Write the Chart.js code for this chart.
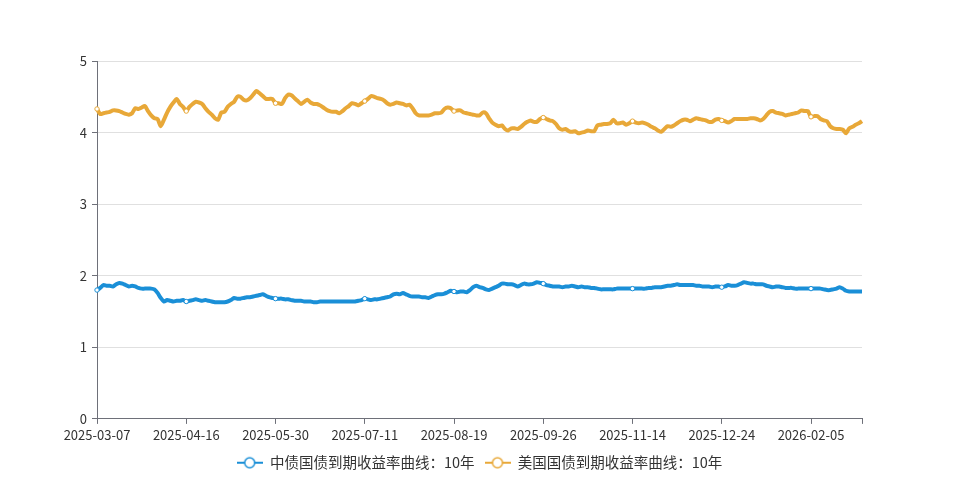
<!DOCTYPE html>
<html>
<head>
<meta charset="utf-8">
<script src="https://cdn.jsdelivr.net/npm/chart.js@4.4.1/dist/chart.umd.min.js"></script>
<style>
  html, body { margin: 0; padding: 0; background: #fff; }
  #wrap { width: 959px; height: 480px; }
</style>
</head>
<body>
<div id="wrap"><canvas id="chart"></canvas></div>
<script>
// labelled dates on the x axis (one every 28 points), plus the last data date
const tickDates = ['2025-03-07', '2025-04-16', '2025-05-30', '2025-07-11', '2025-08-19',
  '2025-09-26', '2025-11-14', '2025-12-24', '2026-02-05'];
const lastDate = '2026-03-09';
const stepsPerTick = 28;
const tailSteps = 16;

const seriesNames = ['中债国债到期收益率曲线：10年', '美国国债到期收益率曲线：10年'];

// 中债国债 10Y
const cnYield = [
  1.80,1.83,1.87,1.86,1.86,1.85,1.88,1.90,1.89,1.87,1.85,1.86,1.85,1.83,1.82,1.82,1.82,1.82,1.81,1.76,1.69,1.64,1.66,1.65,1.64,1.65,1.65,1.66,
  1.64,1.65,1.66,1.67,1.66,1.65,1.66,1.65,1.64,1.63,1.63,1.63,1.63,1.64,1.66,1.69,1.68,1.68,1.69,1.70,1.70,1.71,1.72,1.73,1.74,1.72,1.70,1.69,
  1.68,1.68,1.68,1.67,1.67,1.66,1.65,1.65,1.65,1.64,1.64,1.64,1.63,1.63,1.64,1.64,1.64,1.64,1.64,1.64,1.64,1.64,1.64,1.64,1.64,1.64,1.65,1.66,
  1.68,1.67,1.66,1.67,1.67,1.68,1.69,1.70,1.71,1.74,1.75,1.74,1.76,1.74,1.72,1.71,1.71,1.71,1.70,1.70,1.69,1.71,1.73,1.74,1.74,1.75,1.77,1.79,
  1.78,1.77,1.78,1.78,1.77,1.80,1.84,1.86,1.84,1.83,1.81,1.80,1.82,1.84,1.86,1.89,1.89,1.88,1.88,1.87,1.85,1.87,1.89,1.88,1.88,1.89,1.91,1.90,
  1.89,1.87,1.86,1.85,1.85,1.85,1.84,1.85,1.85,1.86,1.85,1.84,1.85,1.84,1.84,1.83,1.83,1.82,1.81,1.81,1.81,1.81,1.81,1.82,1.82,1.82,1.82,1.82,
  1.82,1.82,1.82,1.82,1.82,1.83,1.83,1.84,1.84,1.84,1.85,1.86,1.86,1.87,1.88,1.87,1.87,1.87,1.87,1.87,1.86,1.86,1.85,1.85,1.85,1.84,1.85,1.85,
  1.84,1.85,1.87,1.86,1.86,1.87,1.89,1.91,1.90,1.89,1.89,1.88,1.88,1.88,1.86,1.85,1.84,1.85,1.85,1.84,1.83,1.83,1.83,1.82,1.82,1.82,1.82,1.82,
  1.82,1.82,1.82,1.82,1.81,1.80,1.80,1.81,1.82,1.84,1.82,1.79,1.78,1.78,1.78,1.78,1.78
];

// 美国国债 10Y
const usYield = [
  4.33,4.26,4.27,4.28,4.29,4.31,4.31,4.30,4.28,4.26,4.25,4.27,4.34,4.33,4.35,4.37,4.30,4.24,4.20,4.19,4.09,4.18,4.28,4.36,4.42,4.47,4.40,4.36,
  4.30,4.36,4.40,4.43,4.42,4.40,4.34,4.29,4.25,4.20,4.18,4.28,4.29,4.36,4.40,4.43,4.50,4.50,4.46,4.45,4.48,4.53,4.58,4.55,4.51,4.47,4.47,4.47,
  4.41,4.41,4.40,4.48,4.53,4.52,4.48,4.44,4.40,4.43,4.46,4.42,4.40,4.40,4.38,4.35,4.32,4.30,4.29,4.29,4.27,4.30,4.34,4.37,4.41,4.40,4.38,4.41,
  4.44,4.47,4.51,4.50,4.48,4.47,4.45,4.41,4.39,4.40,4.42,4.41,4.40,4.38,4.39,4.34,4.27,4.24,4.24,4.24,4.24,4.25,4.27,4.27,4.28,4.33,4.35,4.34,
  4.30,4.31,4.31,4.28,4.27,4.26,4.25,4.24,4.24,4.28,4.27,4.20,4.14,4.11,4.09,4.10,4.05,4.03,4.06,4.06,4.05,4.08,4.12,4.15,4.17,4.15,4.15,4.19,
  4.21,4.19,4.17,4.16,4.12,4.06,4.04,4.05,4.02,4.01,4.02,3.99,4.00,4.01,4.03,4.02,4.02,4.10,4.11,4.12,4.12,4.13,4.18,4.13,4.13,4.14,4.11,4.13,
  4.16,4.14,4.13,4.14,4.13,4.11,4.08,4.06,4.03,4.01,4.05,4.09,4.08,4.10,4.13,4.16,4.18,4.18,4.16,4.18,4.20,4.19,4.18,4.17,4.15,4.15,4.18,4.19,
  4.17,4.16,4.14,4.16,4.19,4.19,4.19,4.19,4.19,4.20,4.20,4.19,4.17,4.19,4.24,4.29,4.30,4.28,4.27,4.26,4.24,4.25,4.26,4.27,4.28,4.31,4.30,4.30,
  4.22,4.23,4.23,4.19,4.17,4.16,4.09,4.06,4.05,4.05,4.04,3.99,4.06,4.08,4.11,4.13,4.16
];

const yTicks = [0, 1, 2, 3, 4, 5];

const colors = ['#1a8fd7', '#e8a838'];

// fill in the unlabelled dates between the labelled ones
function buildDates() {
  let anchors = tickDates.concat([lastDate]);
  let out = [];
  for (let k = 0; k < anchors.length - 1; k++) {
    let a = new Date(anchors[k] + 'T00:00:00Z');
    let b = new Date(anchors[k + 1] + 'T00:00:00Z');
    let steps = k < tickDates.length - 1 ? stepsPerTick : tailSteps;
    let days = Math.round((b - a) / 86400000);
    for (let j = 0; j < steps; j++) {
      let d = new Date(a.getTime() + Math.round(j * days / steps) * 86400000);
      out.push(d.toISOString().slice(0, 10));
    }
  }
  out.push(lastDate);
  return out;
}

const categories = buildDates();

// legend icon: short line with an open circle on it
function legendIcon(color) {
  let c = document.createElement('canvas');
  c.width = 26;
  c.height = 14;
  let g = c.getContext('2d');
  g.strokeStyle = color;
  g.lineWidth = 2;
  g.beginPath();
  g.moveTo(0, 7);
  g.lineTo(26, 7);
  g.stroke();
  g.beginPath();
  g.arc(13, 7, 5, 0, Math.PI * 2);
  g.fillStyle = '#fff';
  g.fill();
  g.lineWidth = 1.5;
  g.stroke();
  return c;
}
const icons = colors.map(legendIcon);

const font = '"Noto Sans CJK SC", "Microsoft YaHei", sans-serif';

// centre the legend on the whole canvas, not on the padded area
const centerLegend = {
  id: 'centerLegend',
  afterLayout(chart) {
    let lg = chart.legend;
    if (!lg) return;
    lg.left = 0;
    lg.right = chart.width;
    lg.width = chart.width;
  }
};

function makeDataset(name, values, color) {
  return {
    label: name,
    data: values,
    borderColor: color,
    backgroundColor: '#fff',
    borderWidth: 4,
    tension: 0.25,
    clip: false,
    pointStyle: 'circle',
    pointRadius: ctx => ctx.dataIndex % stepsPerTick === 0 ? 2.2 : 0,
    pointBorderWidth: 1,
    pointBorderColor: color,
    pointBackgroundColor: '#fff',
    pointHoverRadius: 0
  };
}

new Chart(document.getElementById('chart'), {
  type: 'line',
  data: {
    labels: categories,
    datasets: [
      makeDataset(seriesNames[0], cnYield, colors[0]),
      makeDataset(seriesNames[1], usYield, colors[1])
    ]
  },
  plugins: [centerLegend],
  options: {
    responsive: true,
    maintainAspectRatio: false,
    animation: false,
    devicePixelRatio: 1,
    layout: { padding: { left: 0, right: 97, top: 61, bottom: 0 } },
    plugins: {
      tooltip: { enabled: false },
      legend: {
        position: 'bottom',
        labels: {
          usePointStyle: true,
          pointStyleWidth: 26,
          boxHeight: 14,
          padding: 10,
          color: '#333',
          font: { family: font, size: 14.5 },
          generateLabels: chart => {
            let items = Chart.defaults.plugins.legend.labels.generateLabels(chart);
            items.forEach((it, i) => { it.pointStyle = icons[i]; });
            return items;
          }
        }
      }
    },
    scales: {
      x: {
        grid: {
          drawOnChartArea: false,
          drawTicks: true,
          tickLength: 5,
          color: '#6e7079'
        },
        border: { display: true, color: '#6e7079', width: 1 },
        ticks: {
          autoSkip: false,
          maxRotation: 0,
          color: '#333',
          font: { family: font, size: 13 },
          callback: function (v, i) {
            if (i % stepsPerTick === 0) return categories[i];
            if (i === categories.length - 1) return '';
            return null;
          }
        }
      },
      y: {
        min: yTicks[0],
        max: yTicks[yTicks.length - 1],
        afterFit: s => { s.width = 97; },
        afterBuildTicks: s => { s.ticks = yTicks.map(v => ({ value: v })); },
        grid: {
          color: ctx => ctx.tick && ctx.tick.value === 0 ? 'rgba(0,0,0,0)' : '#e0e0e0',
          tickColor: '#6e7079',
          tickLength: 5,
          drawTicks: true
        },
        border: { display: true, color: '#6e7079', width: 1 },
        ticks: {
          color: '#333',
          padding: 5,
          font: { family: font, size: 13 }
        }
      }
    }
  }
});
</script>
</body>
</html>
